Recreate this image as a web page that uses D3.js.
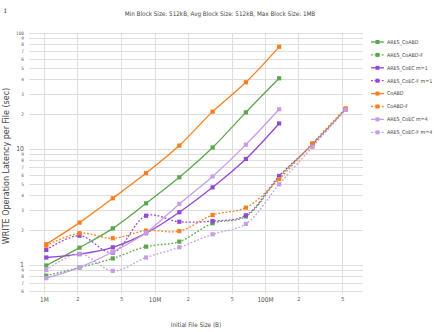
<!DOCTYPE html>
<html>
<head>
<meta charset="utf-8">
<script src="https://cdn.jsdelivr.net/npm/d3@7"></script>
<style>
  html, body { margin: 0; padding: 0; background: #fff; }
  svg { display: block; }
  .cond { font-family: "Liberation Sans Narrow", "DejaVu Sans Condensed", "Roboto Condensed", "Arial Narrow", sans-serif; font-stretch: condensed; }
</style>
</head>
<body>
<svg id="chart" width="434" height="332"></svg>
<script>
// ---- data ----
const MiB = 1048576;
const sizesShort = [1, 2, 4, 8, 16, 32, 64, 128];            // in MiB
const sizesLong  = [1, 2, 4, 8, 16, 32, 64, 128, 256, 512];  // in MiB

const seriesNames = ["ARES_CoABD", "ARES_CoABD-F", "ARES_CoEC m=1", "ARES_CoEC-F m=1",
                     "CoABD", "CoABD-F", "ARES_CoEC m=4", "ARES_CoEC-F m=4"];

const aresCoABD    = [0.99, 1.41, 2.07, 3.40, 5.7, 10.3, 20.7, 40.7];
const aresCoABDF   = [0.81, 0.95, 1.14, 1.44, 1.59, 2.29, 2.62, 5.7, 11.0, 22.0];
const aresCoECm1   = [1.16, 1.24, 1.42, 1.88, 2.85, 4.67, 8.2, 16.6];
const aresCoECFm1  = [1.35, 1.79, 1.28, 2.66, 2.36, 2.39, 2.68, 5.85, 10.9, 22.0];
const coABD        = [1.51, 2.32, 3.76, 6.2, 10.7, 21.0, 37.6, 76.0];
const coABDF       = [1.47, 1.88, 1.70, 1.98, 1.96, 2.70, 3.12, 5.5, 11.2, 22.4];
const aresCoECm4   = [0.77, 0.955, 1.30, 1.90, 3.36, 5.8, 10.9, 22.0];
const aresCoECFm4  = [0.905, 1.25, 0.89, 1.16, 1.42, 1.84, 2.26, 4.96, 10.4, 21.8];

const xTickValues = [1e6, 2e6, 5e6, 1e7, 2e7, 5e7, 1e8, 2e8, 5e8];
const xTickLabels = ["1M", "2", "5", "10M", "2", "5", "100M", "2", "5"];
const yTickValues = [0.6, 0.7, 0.8, 0.9, 1, 2, 3, 4, 5, 6, 7, 8, 9, 10, 20, 30, 40, 50, 60, 70, 80, 90, 100];
const yTickLabels = ["6", "7", "8", "9", "1", "2", "3", "4", "5", "6", "7", "8", "9", "10", "2", "3", "4", "5", "6", "7", "8", "9", "100"];
const yMajor = [1, 10];

const titleText = "Min Block Size: 512kB, Avg Block Size: 512kB, Max Block Size: 1MB";
const xTitle = "Initial File Size (B)";
const yTitle = "WRITE Operation Latency per File (sec)";

// ---- styling ----
const colors = { green: "#5ba84b", orange: "#fa7f1c", purple: "#9448d4", lilac: "#c79de9" };
const series = [
  { name: seriesNames[0], vals: aresCoABD,   color: colors.green,  dotted: false },
  { name: seriesNames[1], vals: aresCoABDF,  color: colors.green,  dotted: true },
  { name: seriesNames[2], vals: aresCoECm1,  color: colors.purple, dotted: false },
  { name: seriesNames[3], vals: aresCoECFm1, color: colors.purple, dotted: true },
  { name: seriesNames[4], vals: coABD,       color: colors.orange, dotted: false },
  { name: seriesNames[5], vals: coABDF,      color: colors.orange, dotted: true },
  { name: seriesNames[6], vals: aresCoECm4,  color: colors.lilac,  dotted: false },
  { name: seriesNames[7], vals: aresCoECFm4, color: colors.lilac,  dotted: true },
];

const plot = { left: 29, right: 363, top: 33, bottom: 294 };

const svg = d3.select("#chart");

const x = d3.scaleLog().domain([1e6, 1e8]).range([44, 265]);
const y = d3.scaleLog().domain([1, 100]).range([265, 33]);

// clip
svg.append("defs").append("clipPath").attr("id", "clip")
  .append("rect").attr("x", plot.left).attr("y", plot.top - 2)
  .attr("width", plot.right - plot.left).attr("height", plot.bottom - plot.top + 2);

// gridlines
const grid = svg.append("g");
grid.selectAll("line.h").data(yTickValues).join("line")
  .attr("x1", plot.left).attr("x2", plot.right)
  .attr("y1", d => Math.round(y(d)) + 0.5).attr("y2", d => Math.round(y(d)) + 0.5)
  .attr("stroke", "#dedede").attr("stroke-width", 1);
grid.selectAll("line.v").data(xTickValues).join("line")
  .attr("y1", plot.top).attr("y2", plot.bottom)
  .attr("x1", d => Math.round(x(d)) + 0.5).attr("x2", d => Math.round(x(d)) + 0.5)
  .attr("stroke", "#dedede").attr("stroke-width", 1);

// axes (labels only)
const xAxis = d3.axisBottom(x).tickValues(xTickValues).tickSize(0)
  .tickFormat((d, i) => xTickLabels[i]);
const gx = svg.append("g").attr("transform", `translate(0,${plot.bottom})`).call(xAxis);
gx.select(".domain").remove();
gx.selectAll("text").attr("class", "cond").attr("fill", "#555")
  .attr("font-size", (d, i) => (xTickLabels[i].length > 1 ? 6.5 : 5.5)).attr("dy", "0.71em").attr("y", 3);

const yAxis = d3.axisLeft(y).tickValues(yTickValues).tickSize(0)
  .tickFormat((d, i) => yTickLabels[i]);
const gy = svg.append("g").attr("transform", `translate(${plot.left - 2},0)`).call(yAxis);
gy.select(".domain").remove();
gy.selectAll("text").attr("class", "cond").attr("fill", "#555")
  .attr("font-size", d => (yMajor.includes(d) ? 6.8 : 4.6))
  .attr("dy", d => (yMajor.includes(d) ? "0.2em" : "0.32em"));

// lines
const line = d3.line()
  .x((d) => x(d[0] * MiB))
  .y((d) => y(d[1]))
  .curve(d3.curveCatmullRom.alpha(0.5));

const plotG = svg.append("g").attr("clip-path", "url(#clip)");
series.forEach(s => {
  const xs = s.vals.length === sizesLong.length ? sizesLong : sizesShort;
  const pts = s.vals.map((v, i) => [xs[i], v]);
  plotG.append("path").datum(pts)
    .attr("d", line).attr("fill", "none")
    .attr("stroke", s.color).attr("stroke-width", 1.3)
    .attr("stroke-dasharray", s.dotted ? "1.8,1.8" : null);
  plotG.selectAll(null).data(pts).join("rect")
    .attr("x", d => x(d[0] * MiB) - 2.1).attr("y", d => y(d[1]) - 2.1)
    .attr("width", 4.2).attr("height", 4.2).attr("fill", s.color);
});

// legend
const legend = svg.append("g").attr("transform", "translate(371,42)");
series.forEach((s, i) => {
  const g = legend.append("g").attr("transform", `translate(0,${i * 12.9})`);
  g.append("line").attr("x1", 0).attr("x2", 13).attr("y1", 0).attr("y2", 0)
    .attr("stroke", s.color).attr("stroke-width", 1.3)
    .attr("stroke-dasharray", s.dotted ? "1.8,1.8" : null);
  g.append("rect").attr("x", 4.5).attr("y", -2).attr("width", 4).attr("height", 4).attr("fill", s.color);
  g.append("text").attr("class", "cond").attr("x", 16).attr("y", 0).attr("dy", "0.35em")
    .attr("font-size", 5.3).attr("fill", "#444").text(s.name);
});

// titles
svg.append("text").attr("class", "cond").attr("x", 220).attr("y", 16)
  .attr("text-anchor", "middle").attr("font-size", 6.3).attr("fill", "#444").text(titleText);
svg.append("text").attr("class", "cond").attr("x", 196).attr("y", 327)
  .attr("text-anchor", "middle").attr("font-size", 6.3).attr("fill", "#444").text(xTitle);
svg.append("text").attr("transform", "translate(9,166) rotate(-90)")
  .attr("text-anchor", "middle").attr("font-family", "DejaVu Sans, sans-serif")
  .attr("font-size", 8).attr("fill", "#444").text(yTitle);
svg.append("text").attr("x", 4).attr("y", 13).attr("font-family", "DejaVu Serif, serif")
  .attr("font-size", 8).attr("fill", "#555").text("i");
</script>
</body>
</html>
